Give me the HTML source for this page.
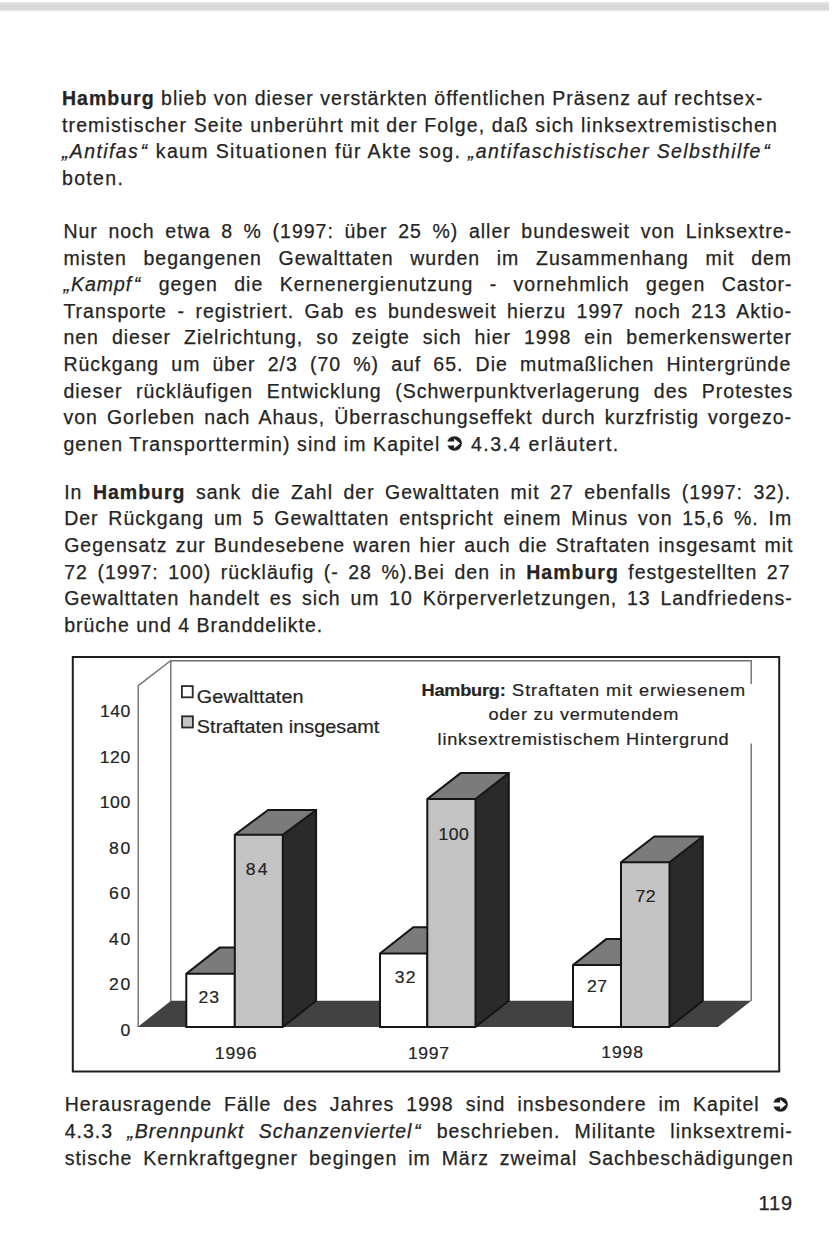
<!DOCTYPE html>
<html><head><meta charset="utf-8"><style>
html,body{margin:0;padding:0;background:#fff;}
body{width:834px;height:1255px;position:relative;overflow:hidden;font-family:"Liberation Sans",sans-serif;color:#242424;}
.topbar{position:absolute;left:0;top:1.5px;width:829px;height:9.5px;background:linear-gradient(#e8e8e8,#d9d9d9 30%,#d6d6d6 70%,#e6e6e6);}
.ln{position:absolute;left:62px;width:731px;font-size:19.5px;line-height:20px;letter-spacing:1.0px;white-space:nowrap;-webkit-text-stroke:0.25px #242424;}
.ln.j{text-align:justify;text-align-last:justify;}
.ln b{letter-spacing:1px;}
.arr{display:inline-block;vertical-align:-0.5px;margin:0 1px;}
.cq{margin-left:1.5px;letter-spacing:2px;}
.chart{position:absolute;left:0;top:0;}
.pn{position:absolute;left:690px;width:103px;text-align:right;font-size:20px;line-height:20px;letter-spacing:0.9px;-webkit-text-stroke:0.25px #242424;}
</style></head><body>
<div class="topbar"></div>
<div class="ln" style="top:88.0px;left:62.0px;letter-spacing:1.014px"><b>Hamburg</b> blieb von dieser verstärkten öffentlichen Präsenz auf rechtsex-</div>
<div class="ln" style="top:114.5px;left:62.0px;letter-spacing:1.122px">tremistischer Seite unberührt mit der Folge, daß sich linksextremistischen</div>
<div class="ln" style="top:141.0px;left:62.0px;letter-spacing:1.363px"><i>„Antifas<span class="cq">“</span></i> kaum Situationen für Akte sog. <i>„antifaschistischer Selbsthilfe<span class="cq">“</span></i></div>
<div class="ln" style="top:167.5px;left:62.0px;letter-spacing:1.333px">boten.</div>
<div class="ln j" style="top:220.9px;left:63.4px;width:728.7px">Nur noch etwa 8 % (1997: über 25 %) aller bundesweit von Linksextre-</div>
<div class="ln j" style="top:247.5px;left:63.4px;width:728.7px">misten begangenen Gewalttaten wurden im Zusammenhang mit dem</div>
<div class="ln j" style="top:274.1px;left:63.4px;width:729.2px"><i>„Kampf<span class="cq">“</span></i> gegen die Kernenergienutzung - vornehmlich gegen Castor-</div>
<div class="ln j" style="top:300.7px;left:63.4px;width:728.6px">Transporte - registriert. Gab es bundesweit hierzu 1997 noch 213 Aktio-</div>
<div class="ln j" style="top:327.3px;left:63.4px;width:728.6px">nen dieser Zielrichtung, so zeigte sich hier 1998 ein bemerkenswerter</div>
<div class="ln j" style="top:353.9px;left:63.4px;width:727.9px">Rückgang um über 2/3 (70 %) auf 65. Die mutmaßlichen Hintergründe</div>
<div class="ln j" style="top:380.5px;left:63.4px;width:729.8px">dieser rückläufigen Entwicklung (Schwerpunktverlagerung des Protestes</div>
<div class="ln j" style="top:407.1px;left:63.4px;width:728.6px">von Gorleben nach Ahaus, Überraschungseffekt durch kurzfristig vorgezo-</div>
<div class="ln" style="top:433.7px;left:63.4px"><span style="letter-spacing:1.11px">genen Transporttermin) sind im Kapitel </span><svg class="arr" style="margin:0 2.2px 0 0" width="15" height="15" viewBox="0 0 15 15"><circle cx="7.5" cy="7.5" r="7.3" fill="#1e1e1e"/><path d="M-1 5.5 H7.2 V2.4 L13.1 7.5 L7.2 12.6 V9.5 H-1 Z" fill="#fff"/></svg><span style="letter-spacing:1.43px"> 4.3.4 erläutert.</span></div>
<div class="ln j" style="top:481.9px;left:64.2px;width:726.9px">In <b>Hamburg</b> sank die Zahl der Gewalttaten mit 27 ebenfalls (1997: 32).</div>
<div class="ln j" style="top:508.4px;left:64.2px;width:728.0px">Der Rückgang um 5 Gewalttaten entspricht einem Minus von 15,6 %. Im</div>
<div class="ln j" style="top:535.0px;left:64.2px;width:729.3px">Gegensatz zur Bundesebene waren hier auch die Straftaten insgesamt mit</div>
<div class="ln j" style="top:561.5px;left:64.2px;width:726.3px">72 (1997: 100) rückläufig (- 28 %).Bei den in <b>Hamburg</b> festgestellten 27</div>
<div class="ln j" style="top:588.0px;left:64.2px;width:728.5px">Gewalttaten handelt es sich um 10 Körperverletzungen, 13 Landfriedens-</div>
<div class="ln" style="top:614.6px;left:64.2px;letter-spacing:1.000px">brüche und 4 Branddelikte.</div>
<div class="ln j" style="top:1094.3px;left:64.7px;width:726.0px">Herausragende Fälle des Jahres 1998 sind insbesondere im Kapitel <svg class="arr" style="margin-right:3px" width="15" height="15" viewBox="0 0 15 15"><circle cx="7.5" cy="7.5" r="7.3" fill="#1e1e1e"/><path d="M-1 5.5 H7.2 V2.4 L13.1 7.5 L7.2 12.6 V9.5 H-1 Z" fill="#fff"/></svg></div>
<div class="ln j" style="top:1120.9px;left:64.7px;width:728.1px">4.3.3 <i>„Brennpunkt Schanzenviertel<span class="cq">“</span></i> beschrieben. Militante linksextremi-</div>
<div class="ln j" style="top:1147.5px;left:64.7px;width:729.1px">stische Kernkraftgegner begingen im März zweimal Sachbeschädigungen</div>
<svg class="chart" width="834" height="1255" viewBox="0 0 834 1255">
<rect x="72.8" y="657.0" width="706.4" height="414.5" fill="none" stroke="#1e1e1e" stroke-width="2.0"/>
<polyline points="138.2,1027 138.2,685.6 170.6,660.8" fill="none" stroke="#6e6e6e" stroke-width="1.4"/>
<polyline points="170.8,1001 170.8,660.8 751.2,660.8 751.2,1001" fill="none" stroke="#6e6e6e" stroke-width="1.4"/>
<polygon points="137.7,1027.0 171.0,1000.8 751.3,1000.8 718.0,1027.0" fill="#424242"/>
<polygon points="186.3,973.7 219.6,947.6 268.1,947.6 234.8,973.7" fill="#7b7b7b"/>
<rect x="186.3" y="973.7" width="48.5" height="53.3" fill="#ffffff"/>
<polygon points="186.3,1027.0 186.3,973.7 219.6,947.6 268.1,947.6 234.8,973.7 234.8,1027.0" fill="none" stroke="#151515" stroke-width="2.0" stroke-linejoin="miter"/>
<polyline points="186.3,973.7 234.8,973.7 234.8,973.7" fill="none" stroke="#151515" stroke-width="2.0"/>
<polygon points="282.8,1027.0 282.8,834.8 316.1,810.0 316.1,1000.8" fill="#2a2a2a"/>
<polygon points="234.8,834.8 268.1,810.0 316.1,810.0 282.8,834.8" fill="#7b7b7b"/>
<rect x="234.8" y="834.8" width="48.0" height="192.2" fill="#c3c3c3"/>
<polygon points="234.8,1027.0 234.8,834.8 268.1,810.0 316.1,810.0 316.1,1000.8 282.8,1027.0" fill="none" stroke="#151515" stroke-width="2.0" stroke-linejoin="miter"/>
<polyline points="234.8,834.8 282.8,834.8 316.1,810.0" fill="none" stroke="#151515" stroke-width="2.0"/>
<line x1="282.8" y1="834.8" x2="282.8" y2="1027.0" stroke="#151515" stroke-width="2.0"/>
<polygon points="380.0,953.4 413.3,927.3 460.6,927.3 427.3,953.4" fill="#7b7b7b"/>
<rect x="380.0" y="953.4" width="47.3" height="73.6" fill="#ffffff"/>
<polygon points="380.0,1027.0 380.0,953.4 413.3,927.3 460.6,927.3 427.3,953.4 427.3,1027.0" fill="none" stroke="#151515" stroke-width="2.0" stroke-linejoin="miter"/>
<polyline points="380.0,953.4 427.3,953.4 427.3,953.4" fill="none" stroke="#151515" stroke-width="2.0"/>
<polygon points="475.5,1027.0 475.5,799.0 508.8,773.1 508.8,1000.8" fill="#2a2a2a"/>
<polygon points="427.3,799.0 460.6,773.1 508.8,773.1 475.5,799.0" fill="#7b7b7b"/>
<rect x="427.3" y="799.0" width="48.2" height="228.0" fill="#c3c3c3"/>
<polygon points="427.3,1027.0 427.3,799.0 460.6,773.1 508.8,773.1 508.8,1000.8 475.5,1027.0" fill="none" stroke="#151515" stroke-width="2.0" stroke-linejoin="miter"/>
<polyline points="427.3,799.0 475.5,799.0 508.8,773.1" fill="none" stroke="#151515" stroke-width="2.0"/>
<line x1="475.5" y1="799.0" x2="475.5" y2="1027.0" stroke="#151515" stroke-width="2.0"/>
<polygon points="573.0,965.0 606.3,939.1 654.3,939.1 621.0,965.0" fill="#7b7b7b"/>
<rect x="573.0" y="965.0" width="48.0" height="62.0" fill="#ffffff"/>
<polygon points="573.0,1027.0 573.0,965.0 606.3,939.1 654.3,939.1 621.0,965.0 621.0,1027.0" fill="none" stroke="#151515" stroke-width="2.0" stroke-linejoin="miter"/>
<polyline points="573.0,965.0 621.0,965.0 621.0,965.0" fill="none" stroke="#151515" stroke-width="2.0"/>
<polygon points="669.5,1027.0 669.5,862.2 702.8,836.5 702.8,1000.8" fill="#2a2a2a"/>
<polygon points="621.0,862.2 654.3,836.5 702.8,836.5 669.5,862.2" fill="#7b7b7b"/>
<rect x="621.0" y="862.2" width="48.5" height="164.8" fill="#c3c3c3"/>
<polygon points="621.0,1027.0 621.0,862.2 654.3,836.5 702.8,836.5 702.8,1000.8 669.5,1027.0" fill="none" stroke="#151515" stroke-width="2.0" stroke-linejoin="miter"/>
<polyline points="621.0,862.2 669.5,862.2 702.8,836.5" fill="none" stroke="#151515" stroke-width="2.0"/>
<line x1="669.5" y1="862.2" x2="669.5" y2="1027.0" stroke="#151515" stroke-width="2.0"/>
</svg>
<svg class="chart" width="834" height="1255" viewBox="0 0 834 1255"><g font-family="Liberation Sans" fill="#242424">
<rect x="181.9" y="686.1" width="10.8" height="11.2" fill="#fff" stroke="#2a2a2a" stroke-width="1.8"/>
<rect x="182.1" y="716.3" width="10.8" height="11.2" fill="#c4c4c4" stroke="#2a2a2a" stroke-width="1.8"/>
<rect x="416" y="684" width="345" height="59.5" fill="#fff"/>
<text transform="translate(99.94,717.40) scale(1.1,1)" x="0" y="0" font-size="16" textLength="27.56" lengthAdjust="spacing" stroke="#242424" stroke-width="0.2">140</text>
<text transform="translate(99.74,762.90) scale(1.1,1)" x="0" y="0" font-size="16" textLength="27.74" lengthAdjust="spacing" stroke="#242424" stroke-width="0.2">120</text>
<text transform="translate(99.74,808.40) scale(1.1,1)" x="0" y="0" font-size="16" textLength="27.74" lengthAdjust="spacing" stroke="#242424" stroke-width="0.2">100</text>
<text transform="translate(108.94,853.90) scale(1.1,1)" x="0" y="0" font-size="16" textLength="19.37" lengthAdjust="spacing" stroke="#242424" stroke-width="0.2">80</text>
<text transform="translate(108.94,899.40) scale(1.1,1)" x="0" y="0" font-size="16" textLength="19.37" lengthAdjust="spacing" stroke="#242424" stroke-width="0.2">60</text>
<text transform="translate(108.94,944.90) scale(1.1,1)" x="0" y="0" font-size="16" textLength="19.37" lengthAdjust="spacing" stroke="#242424" stroke-width="0.2">40</text>
<text transform="translate(108.94,990.40) scale(1.1,1)" x="0" y="0" font-size="16" textLength="19.37" lengthAdjust="spacing" stroke="#242424" stroke-width="0.2">20</text>
<text x="120.5" y="1036" font-size="16" transform="translate(-12,0) scale(1.1,1)" stroke="#242424" stroke-width="0.2">0</text>
<text transform="translate(214.84,1058.50) scale(1.1,1)" x="0" y="0" font-size="16" textLength="37.83" lengthAdjust="spacing" stroke="#242424" stroke-width="0.2">1996</text>
<text transform="translate(407.94,1058.80) scale(1.1,1)" x="0" y="0" font-size="16" textLength="37.37" lengthAdjust="spacing" stroke="#242424" stroke-width="0.2">1997</text>
<text transform="translate(601.24,1058.30) scale(1.1,1)" x="0" y="0" font-size="16" textLength="38.01" lengthAdjust="spacing" stroke="#242424" stroke-width="0.2">1998</text>
<text transform="translate(198.54,1002.60) scale(1.1,1)" x="0" y="0" font-size="16" textLength="18.74" lengthAdjust="spacing" stroke="#242424" stroke-width="0.2">23</text>
<text transform="translate(245.74,874.50) scale(1.1,1)" x="0" y="0" font-size="16" textLength="19.83" lengthAdjust="spacing" stroke="#242424" stroke-width="0.2">84</text>
<text transform="translate(394.74,983.00) scale(1.1,1)" x="0" y="0" font-size="16" textLength="18.83" lengthAdjust="spacing" stroke="#242424" stroke-width="0.2">32</text>
<text transform="translate(438.44,839.80) scale(1.1,1)" x="0" y="0" font-size="16" textLength="27.65" lengthAdjust="spacing" stroke="#242424" stroke-width="0.2">100</text>
<text transform="translate(586.94,992.20) scale(1.1,1)" x="0" y="0" font-size="16" textLength="18.28" lengthAdjust="spacing" stroke="#242424" stroke-width="0.2">27</text>
<text transform="translate(635.44,901.60) scale(1.1,1)" x="0" y="0" font-size="16" textLength="18.28" lengthAdjust="spacing" stroke="#242424" stroke-width="0.2">72</text>
<text transform="translate(196.81,702.50) scale(1.1,1)" x="0" y="0" font-size="18" textLength="97.07" lengthAdjust="spacing" stroke="#242424" stroke-width="0.2">Gewalttaten</text>
<text transform="translate(196.81,732.50) scale(1.1,1)" x="0" y="0" font-size="18" textLength="165.98" lengthAdjust="spacing" stroke="#242424" stroke-width="0.2">Straftaten insgesamt</text>
<text font-weight="bold" transform="translate(421.51,695.50) scale(1.1,1)" x="0" y="0" font-size="16.5" textLength="76.53" lengthAdjust="spacing" stroke="#242424" stroke-width="0.2">Hamburg:</text>
<text transform="translate(512.11,695.50) scale(1.1,1)" x="0" y="0" font-size="16.5" textLength="211.80" lengthAdjust="spacing" stroke="#242424" stroke-width="0.2">Straftaten mit erwiesenem</text>
<text transform="translate(488.41,720.30) scale(1.1,1)" x="0" y="0" font-size="16.5" textLength="172.62" lengthAdjust="spacing" stroke="#242424" stroke-width="0.2">oder zu vermutendem</text>
<text transform="translate(437.61,745.10) scale(1.1,1)" x="0" y="0" font-size="16.5" textLength="264.53" lengthAdjust="spacing" stroke="#242424" stroke-width="0.2">linksextremistischem Hintergrund</text>
</g></svg>
<div class="pn" style="top:1192.5px">119</div>
</body></html>
